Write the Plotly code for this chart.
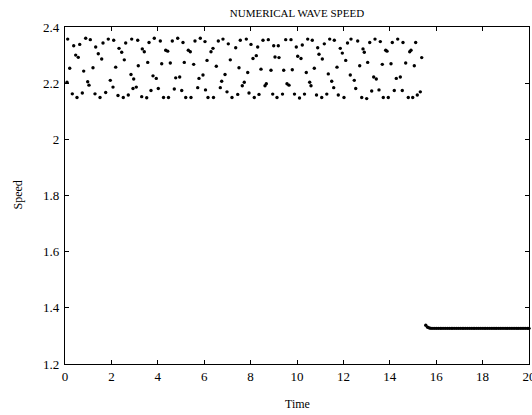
import plotly.graph_objects as go

# Oscillating phase: time, speed
band_time = [
    0.086, 0.116, 0.203, 0.315, 0.375, 0.461, 0.517, 0.573, 0.634, 0.746,
    0.806, 0.892, 0.978, 1.034, 1.091, 1.207, 1.293, 1.323, 1.435, 1.509,
    1.582, 1.638, 1.754, 1.866, 1.953, 2.069, 2.099, 2.185, 2.284, 2.328,
    2.444, 2.513, 2.556, 2.616, 2.728, 2.845, 2.875, 2.931, 2.961,
    3.073, 3.134, 3.159, 3.306, 3.332, 3.418, 3.522, 3.565, 3.621, 3.707,
    3.793, 3.849, 3.935, 4.022, 4.108, 4.168, 4.246, 4.341, 4.427, 4.461,
    4.539, 4.625, 4.711, 4.772, 4.858, 4.944, 5.030, 5.086, 5.142, 5.203,
    5.315, 5.401, 5.431, 5.547, 5.603, 5.720, 5.776, 5.832, 5.948, 6.034,
    6.056, 6.121,
    6.164, 6.293, 6.379, 6.401, 6.522, 6.608, 6.694, 6.754, 6.810, 6.897,
    6.983, 7.039, 7.125, 7.198, 7.358, 7.444, 7.500, 7.556, 7.642, 7.728,
    7.815, 7.875, 7.931, 8.017, 8.103, 8.159, 8.246, 8.306, 8.362, 8.448,
    8.534, 8.621, 8.677, 8.763, 8.879, 8.953, 8.996, 9.052, 9.138, 9.194,
    9.224,
    9.375, 9.427, 9.513, 9.569, 9.655, 9.741, 9.797, 9.892, 9.970, 10.030,
    10.108, 10.172, 10.228, 10.323, 10.401, 10.461, 10.547, 10.603, 10.659, 10.746,
    10.841, 10.892, 10.948, 11.065, 11.091, 11.177, 11.284, 11.349, 11.409, 11.496,
    11.582, 11.608, 11.724, 11.780, 11.866, 11.953, 12.026, 12.099, 12.177, 12.297,
    12.328,
    12.470, 12.530, 12.616, 12.703, 12.789, 12.845, 12.901, 13.004, 13.047, 13.134,
    13.220, 13.306, 13.362, 13.418, 13.534, 13.591, 13.677, 13.720, 13.823, 13.879,
    13.935, 14.052, 14.108, 14.194, 14.280, 14.341, 14.453, 14.539, 14.569, 14.685,
    14.797, 14.858, 14.914, 14.987, 15.056, 15.116, 15.185, 15.315, 15.375,
]
band_speed = [
    2.203, 2.357, 2.253, 2.162, 2.333, 2.300, 2.149, 2.292, 2.338, 2.165,
    2.243, 2.360, 2.205, 2.193, 2.355, 2.255, 2.162, 2.329, 2.305, 2.149,
    2.286, 2.343, 2.167, 2.357, 2.210, 2.186, 2.353, 2.257, 2.156, 2.324,
    2.310, 2.149, 2.283, 2.343, 2.158, 2.231, 2.357, 2.181, 2.215,
    2.186, 2.353, 2.262, 2.152, 2.322, 2.312, 2.148, 2.274, 2.345, 2.174,
    2.226, 2.360, 2.217, 2.181, 2.350, 2.269, 2.149, 2.317, 2.314, 2.149,
    2.272, 2.350, 2.179, 2.219, 2.360, 2.222, 2.174, 2.345, 2.274, 2.149,
    2.317, 2.312, 2.149, 2.267, 2.350, 2.184, 2.217, 2.360, 2.229, 2.348,
    2.176, 2.281,
    2.149, 2.312, 2.324, 2.149, 2.260, 2.350, 2.184, 2.207, 2.357, 2.231,
    2.169, 2.340, 2.283, 2.149, 2.326, 2.160, 2.255, 2.353, 2.191, 2.203,
    2.357, 2.238, 2.165, 2.338, 2.288, 2.149, 2.298, 2.329, 2.160, 2.250,
    2.353, 2.191, 2.198, 2.355, 2.246, 2.161, 2.333, 2.293, 2.149, 2.333,
    2.291,
    2.161, 2.246, 2.355, 2.198, 2.193, 2.355, 2.248, 2.161, 2.329, 2.296,
    2.147, 2.288, 2.336, 2.161, 2.238, 2.357, 2.203, 2.191, 2.353, 2.253,
    2.158, 2.326, 2.303, 2.149, 2.286, 2.340, 2.161, 2.233, 2.357, 2.207,
    2.184, 2.353, 2.257, 2.158, 2.324, 2.307, 2.149, 2.281, 2.343, 2.229,
    2.357,
    2.210, 2.181, 2.350, 2.262, 2.149, 2.322, 2.310, 2.145, 2.274, 2.345,
    2.172, 2.222, 2.357, 2.215, 2.176, 2.348, 2.267, 2.149, 2.317, 2.314,
    2.149, 2.269, 2.345, 2.174, 2.217, 2.357, 2.222, 2.174, 2.345, 2.272,
    2.149, 2.312, 2.317, 2.149, 2.262, 2.345, 2.158, 2.169, 2.291,
]

# Settled phase
flat_time = [
    15.55, 15.63, 15.71, 15.78, 15.86, 15.94, 16.02, 16.10, 16.18, 16.25,
    16.33, 16.41, 16.49, 16.57, 16.65, 16.72, 16.80, 16.88, 16.96, 17.04,
    17.12, 17.19, 17.27, 17.35, 17.43, 17.51, 17.59, 17.66, 17.74, 17.82,
    17.90, 17.98, 18.06, 18.13, 18.21, 18.29, 18.37, 18.45, 18.53, 18.60,
    18.68, 18.76, 18.84, 18.92, 19.00, 19.07, 19.15, 19.23, 19.31, 19.39,
    19.47, 19.54, 19.62, 19.70, 19.78, 19.86, 19.94, 20.00,
]
flat_speed = [
    1.338, 1.331, 1.328, 1.327, 1.327, 1.327, 1.327, 1.327, 1.327, 1.327,
    1.327, 1.327, 1.327, 1.327, 1.327, 1.327, 1.327, 1.327, 1.327, 1.327,
    1.327, 1.327, 1.327, 1.327, 1.327, 1.327, 1.327, 1.327, 1.327, 1.327,
    1.327, 1.327, 1.327, 1.327, 1.327, 1.327, 1.327, 1.327, 1.327, 1.327,
    1.327, 1.327, 1.327, 1.327, 1.327, 1.327, 1.327, 1.327, 1.327, 1.327,
    1.327, 1.327, 1.327, 1.327, 1.327, 1.327, 1.327, 1.327,
]

x_ticks = [0, 2, 4, 6, 8, 10, 12, 14, 16, 18, 20]
y_ticks = [1.2, 1.4, 1.6, 1.8, 2.0, 2.2, 2.4]
y_tick_text = ["1.2", "1.4", "1.6", "1.8", "2", "2.2", "2.4"]

SERIF = "Liberation Serif, Times New Roman, serif"

FIG_W, FIG_H = 532, 415

fig = go.Figure()
for tx, sy in ((band_time, band_speed), (flat_time, flat_speed)):
    fig.add_trace(go.Scatter(
        x=tx, y=sy, mode="markers",
        marker=dict(color="black", size=3.4, line=dict(width=0)),
        showlegend=False, hoverinfo="skip", cliponaxis=False,
    ))

axis_common = dict(
    showgrid=False, zeroline=False, showline=True, linecolor="black",
    linewidth=1.4, mirror="ticks", ticks="inside", ticklen=4,
    tickcolor="black", tickwidth=1, ticklabeloverflow="allow", automargin=False,
    tickfont=dict(family=SERIF, size=13, color="black"),
)

fig.update_layout(
    width=FIG_W, height=FIG_H,
    margin=dict(l=65, r=3, t=27, b=51, autoexpand=False),
    paper_bgcolor="white", plot_bgcolor="white",
    title=dict(text="NUMERICAL WAVE SPEED", x=297 / FIG_W, xanchor="center",
               y=1 - 13 / FIG_H, yanchor="middle", yref="container",
               font=dict(family=SERIF, size=11, color="black")),
    xaxis=dict(range=[0, 20], tickvals=x_ticks, ticktext=[str(v) for v in x_ticks],
               **axis_common),
    yaxis=dict(range=[1.2, 2.4], tickvals=y_ticks, ticktext=y_tick_text,
               ticklabelstandoff=2, **axis_common),
    annotations=[
        dict(text="Time", xref="paper", yref="paper", x=0.5, y=-(404 - 364) / 337,
             showarrow=False, xanchor="center", yanchor="middle",
             font=dict(family=SERIF, size=12, color="black")),
        dict(text="Speed", xref="paper", yref="paper", x=-(65 - 17) / 464, y=0.5,
             showarrow=False, xanchor="center", yanchor="middle", textangle=-90,
             font=dict(family=SERIF, size=12, color="black")),
    ],
)

fig.write_html(
    "out.html",
    config={"displayModeBar": False},
    post_script="document.body.style.margin='0';document.body.style.overflow='hidden';",
)
